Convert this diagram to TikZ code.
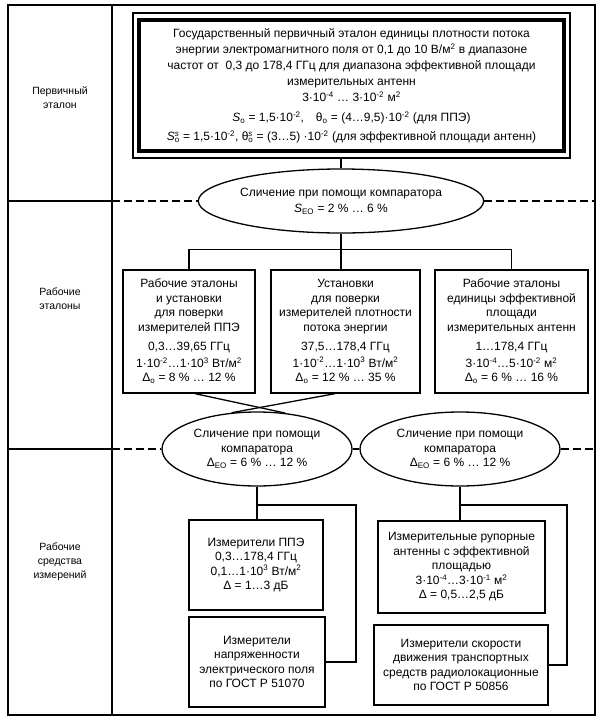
\documentclass[tikz,border=0pt]{standalone}
\usepackage{fontspec}
\setmainfont{Liberation Sans}
\usetikzlibrary{shapes.geometric}
\newcommand\su[1]{\textsuperscript{#1}}
\newcommand\ssx[2]{\rlap{\textsuperscript{#1}}\textsubscript{#2}}
\begin{document}
\begin{tikzpicture}[x=1pt,y=-1pt,
  every node/.style={font=\fontsize{12}{14.5}\selectfont, align=center, inner sep=0pt},
  box/.style={draw, line width=1.3pt, rectangle},
  oval/.style={draw, line width=1.3pt, ellipse},
  ln/.style={line width=1.3pt},
  dsh/.style={line width=1.3pt, dash pattern=on 8pt off 4pt},
  lbl/.style={font=\fontsize{10.5}{14}\selectfont}]
\useasboundingbox (0,0) rectangle (601,724);
% frame
\draw[ln] (8,5) rectangle (595,715);
\draw[ln] (112,5) -- (112,715);
% primary standard
\node[draw, line width=1.2pt, minimum width=437pt, minimum height=145pt] (primO) at (351.5,85.5) {};
\node[draw, line width=3.5pt, minimum width=425pt, minimum height=131pt] (primI) at (351.5,85.5) {};
\node[font=\fontsize{12}{16}\selectfont] (primT) at (351.5,86) {Государственный первичный эталон единицы плотности потока\\
энергии электромагнитного поля от 0,1 до 10 В/м\su{2} в диапазоне\\
частот от\ \ 0,3 до 178,4 ГГц для диапазона эффективной площади\\
измерительных антенн\\
3·10\su{-4} … 3·10\su{-2} м\su{2}\\[4pt]
\textit{S}\textsubscript{o} = 1,5·10\su{-2},\quad θ\textsubscript{o} = (4…9,5)·10\su{-2} (для ППЭ)\\[3pt]
\textit{S}\ssx{\textit{s}}{o} = 1,5·10\su{-2}, θ\ssx{\textit{s}}{o} = (3…5) ·10\su{-2} (для эффективной площади антенн)};
% comparator 1
\node[oval, minimum width=282pt, minimum height=64pt] (E1) at (341,201) {Сличение при помощи компаратора\\[2pt]\textit{S}\textsubscript{EO} = 2 \% … 6 \%};
% working standards
\node[box, minimum width=132pt, minimum height=123pt] (B1) at (189,331.5) {Рабочие эталоны\\и установки\\для поверки\\измерителей ППЭ\\[5pt]0,3…39,65 ГГц\\[2pt]1·10\su{-2}…1·10\su{3} Вт/м\su{2}\\Δ\textsubscript{o} = 8 \% … 12 \%};
\node[box, minimum width=149pt, minimum height=123pt] (B2) at (345.5,331.5) {Установки\\для поверки\\измерителей плотности\\потока энергии\\[5pt]37,5…178,4 ГГц\\[2pt]1·10\su{-2}…1·10\su{3} Вт/м\su{2}\\Δ\textsubscript{o} = 12 \% … 35 \%};
\node[box, minimum width=153pt, minimum height=123pt] (B3) at (511.5,331.5) {Рабочие эталоны\\единицы эффективной\\площади\\измерительных антенн\\[5pt]1…178,4 ГГц\\[2pt]3·10\su{-4}…5·10\su{-2} м\su{2}\\Δ\textsubscript{o} = 6 \% … 16 \%};
% comparators 2
\node[oval, minimum width=190pt, minimum height=74pt] (EL) at (257,449) {Сличение при помощи\\компаратора\\Δ\textsubscript{EO} = 6 \% … 12 \%};
\node[oval, minimum width=200pt, minimum height=74pt] (ER) at (460,449) {Сличение при помощи\\компаратора\\Δ\textsubscript{EO} = 6 \% … 12 \%};
% working measuring instruments
\node[box, minimum width=134pt, minimum height=90pt] (B4) at (256,565) {Измерители ППЭ\\0,3…178,4 ГГц\\0,1…1·10\su{3} Вт/м\su{2}\\Δ = 1…3 дБ};
\node[box, minimum width=136pt, minimum height=90pt] (B5) at (257,662) {Измерители\\напряженности\\электрического поля\\по ГОСТ Р 51070};
\node[box, minimum width=167pt, minimum height=92pt] (B6) at (461.5,567) {Измерительные рупорные\\антенны с эффективной\\площадью\\3·10\su{-4}…3·10\su{-1} м\su{2}\\Δ = 0,5…2,5 дБ};
\node[box, minimum width=174pt, minimum height=80pt] (B7) at (461,665) {Измерители скорости\\движения транспортных\\средств радиолокационные\\по ГОСТ Р 50856};
% row labels
\node[lbl] (L1) at (60,98) {Первичный\\эталон};
\node[lbl] (L2) at (60,299) {Рабочие\\эталоны};
\node[lbl] (L3) at (60,562) {Рабочие\\средства\\измерений};
% dividers
\coordinate (d1) at (112,201);
\coordinate (d2) at (112,449);
\coordinate (r1) at (595,201);
\coordinate (r2) at (595,449);
\draw[ln] (8,201) -- (d1);
\draw[ln] (8,449) -- (d2);
\draw[dsh] (d1) -- (E1.west);
\draw[dsh] (E1.east) -- (r1);
\draw[dsh] (d2) -- (EL.west);
\draw[ln] (EL.east) -- (ER.west);
\draw[dsh] (ER.east) -- (r2);
% connectors
\draw[ln] (primO.south -| E1.north) -- (E1.north);
\draw[ln] (E1.south) -- (E1.south |- B2.north);
\draw[ln] (B1.north) -- ++(0,-20) -| (B3.north);
\draw[ln] ([xshift=6pt]B1.south) -- (EL.52);
\draw[ln] ([xshift=-10.5pt]B2.south) -- (EL.125);
\coordinate (lv) at (0,505);
\draw[ln] (EL.south) -- (EL.south |- B4.north);
\draw[ln] (EL.south |- lv) -- ++(99,0) |- (B5.east);
\draw[ln] (ER.south) -- (ER.south |- B6.north);
\draw[ln] (ER.south |- lv) -- ++(107,0) |- (B7.east);
\end{tikzpicture}
\end{document}
